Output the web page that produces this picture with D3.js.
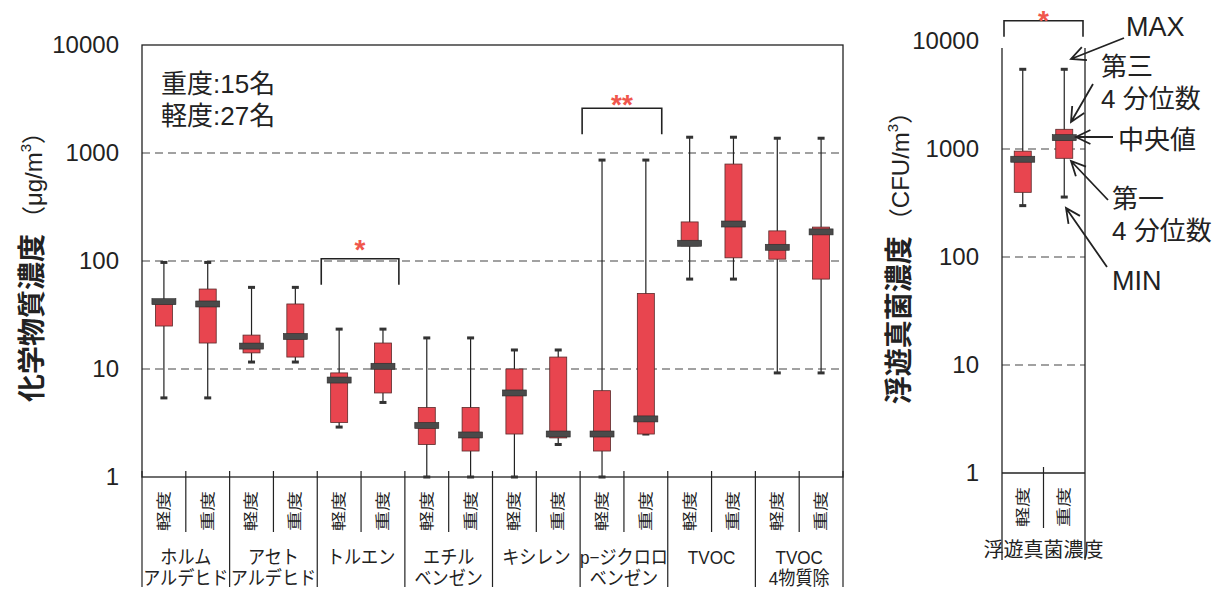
<!DOCTYPE html>
<html><head><meta charset="utf-8">
<script src="https://cdn.jsdelivr.net/npm/d3@7"></script>
<style>
html,body{margin:0;padding:0;background:#fff;}
svg{display:block;font-family:"Liberation Sans","Noto Sans CJK JP",sans-serif;}
</style></head>
<body>
<svg id="c" width="1227" height="592"></svg>
<script>
// ---------- data ----------
const groupNames = [["ホルム","アルデヒド"],["アセト","アルデヒド"],["トルエン"],["エチル","ベンゼン"],["キシレン"],["p−ジクロロ","ベンゼン"],["TVOC"],["TVOC","4物質除"]];
const severity = ["軽度","重度"];
const chemMin = [5.4, 5.4, 11.6, 11.6, 2.9, 4.9, 1, 1, 1, 2.0, 1, 2.5, 68, 68, 9.2, 9.2];
const chemQ1  = [25, 17.4, 14.1, 12.9, 3.2, 6.0, 2.0, 1.74, 2.5, 2.3, 1.74, 2.5, 138, 107, 104, 68];
const chemMed = [42, 40, 16.3, 20, 7.9, 10.6, 3.0, 2.45, 6.0, 2.5, 2.5, 3.45, 146, 220, 134, 186];
const chemQ3  = [44, 55, 20.6, 40, 9.2, 17.4, 4.4, 4.4, 10, 12.9, 6.3, 50, 230, 790, 190, 206];
const chemMax = [97, 97, 57, 57, 23.4, 23.4, 19.4, 19.4, 15, 15, 860, 860, 1400, 1400, 1370, 1370];
const fungusName = "浮遊真菌濃度";
const fungusMin = [299, 359];
const fungusQ1  = [397, 820];
const fungusMed = [804, 1273];
const fungusQ3  = [955, 1522];
const fungusMax = [5470, 5470];
const yTicks = [1, 10, 100, 1000, 10000];
const gridVals = [10, 100, 1000];
const sampleNote = ["重度:15名", "軽度:27名"];
const chemBrackets = [{a:4, b:5, top:105, label:"*"}, {a:10, b:11, top:2600, label:"**"}];
const fungusBracket = {a:0, b:1, top:15400, label:"*"};

// ---------- style ----------
const BOX_FILL = "#e8454f", BOX_STROKE = "#5a2a2a", MED_FILL = "#4a4a4a", INK = "#222", STAR = "#f0564c";
const svg = d3.select("#c");

// ---------- scales ----------
const xL = d3.scaleBand().domain(d3.range(16)).range([142, 843]);
const yL = d3.scaleLog().domain([1, 10000]).range([477, 45]);
const xR = d3.scaleBand().domain([0, 1]).range([1002, 1085]);
const yR = d3.scaleLog().domain([1, 10000]).range([473, 41]);

function drawBoxes(g, x, y, mins, q1, med, q3, max) {
  const bw = 17, mw = 24, cw = 7;
  const idx = d3.range(mins.length);
  const cx = i => x(i) + x.bandwidth() / 2;
  g.selectAll("line.wh").data(idx).join("line")
    .attr("x1", cx).attr("x2", cx)
    .attr("y1", i => y(max[i])).attr("y2", i => y(mins[i]))
    .attr("stroke", INK).attr("stroke-width", 1.2);
  g.selectAll("rect.capT").data(idx).join("rect")
    .attr("x", i => cx(i) - cw / 2).attr("y", i => y(max[i]) - 1.5)
    .attr("width", cw).attr("height", 3).attr("fill", "#333");
  g.selectAll("rect.capB").data(idx).join("rect")
    .attr("x", i => cx(i) - cw / 2).attr("y", i => y(mins[i]) - 1.5)
    .attr("width", cw).attr("height", 3).attr("fill", "#333");
  g.selectAll("rect.box").data(idx).join("rect")
    .attr("x", i => cx(i) - bw / 2).attr("y", i => y(q3[i]))
    .attr("width", bw).attr("height", i => y(q1[i]) - y(q3[i]))
    .attr("fill", BOX_FILL).attr("stroke", BOX_STROKE).attr("stroke-width", 0.8);
  g.selectAll("rect.med").data(idx).join("rect")
    .attr("x", i => cx(i) - mw / 2).attr("y", i => y(med[i]) - 3)
    .attr("width", mw).attr("height", 6)
    .attr("fill", MED_FILL).attr("stroke", "#2a2a2a").attr("stroke-width", 0.6);
}

function drawYAxis(x0, y) {
  const g = svg.append("g").attr("transform", `translate(${x0},0)`)
    .call(d3.axisLeft(y).tickValues(yTicks).tickFormat(d3.format("d")).tickSize(0).tickPadding(23));
  g.select(".domain").remove();
  g.selectAll("text").attr("font-size", 24).attr("fill", INK)
    .attr("font-family", "Liberation Sans, Arial, sans-serif");
}

function drawGrid(x0, x1, y) {
  svg.append("g").selectAll("line").data(gridVals).join("line")
    .attr("x1", x0).attr("x2", x1).attr("y1", d => y(d)).attr("y2", d => y(d))
    .attr("stroke", "#444").attr("stroke-width", 1.1).attr("stroke-dasharray", "8,5");
}

function drawBracket(x, y, br, inL, inR, drop, starOff) {
  const xa = x(br.a) + inL, xb = x(br.b) + x.bandwidth() - inR, yt = y(br.top);
  svg.append("path")
    .attr("d", `M${xa},${yt + drop}V${yt}H${xb}V${yt + drop}`)
    .attr("fill", "none").attr("stroke", INK).attr("stroke-width", 1.6);
  svg.append("text").attr("x", (xa + xb) / 2).attr("y", yt - starOff)
    .attr("text-anchor", "middle").attr("font-size", 28).attr("font-weight", "bold")
    .attr("fill", STAR).attr("font-family", "Liberation Sans, Arial, sans-serif")
    .text(br.label);
}

// ---------- LEFT PANEL ----------
drawGrid(142, 843, yL);
svg.append("rect").attr("x", 142).attr("y", 45).attr("width", 701).attr("height", 432)
  .attr("fill", "none").attr("stroke", INK).attr("stroke-width", 1.3);
drawYAxis(142, yL);
drawBoxes(svg.append("g"), xL, yL, chemMin, chemQ1, chemMed, chemQ3, chemMax);

// category separators below axis
const stepL = xL.step();
svg.append("g").selectAll("line").data(d3.range(17)).join("line")
  .attr("x1", i => 142 + i * stepL).attr("x2", i => 142 + i * stepL)
  .attr("y1", 471).attr("y2", i => i % 2 === 0 ? 587 : 532)
  .attr("stroke", INK).attr("stroke-width", 1.2);

// severity labels (rotated)
svg.append("g").selectAll("text").data(d3.range(16)).join("text")
  .attr("transform", i => `translate(${xL(i) + xL.bandwidth() / 2},511) rotate(-90) scale(1,0.72)`)
  .attr("text-anchor", "middle").attr("dominant-baseline", "central")
  .attr("font-size", 20).attr("fill", INK).text(i => severity[i % 2]);

// group labels
groupNames.forEach((lines, gi) => {
  const cx = xL(gi * 2) + stepL;
  lines.forEach((t, li) => {
    svg.append("text")
      .attr("transform", `translate(${cx},${564 + li * 21}) scale(0.9,1)`)
      .attr("text-anchor", "middle").attr("font-size", 19).attr("fill", INK).text(t);
  });
});

// sample note
sampleNote.forEach((t, i) => {
  svg.append("text").attr("x", 161).attr("y", 93 + i * 32)
    .attr("font-size", 26).attr("fill", INK).text(t);
});

// brackets
drawBracket(xL, yL, chemBrackets[0], 4, 6, 26, 0);
drawBracket(xL, yL, chemBrackets[1], 2, 6, 26, -6);

// left y title
const tL = svg.append("text").attr("transform", "translate(42,261) rotate(-90)")
  .attr("text-anchor", "middle").attr("fill", INK);
tL.append("tspan").attr("font-size", 28).attr("font-weight", "bold").text("化学物質濃度");
tL.append("tspan").attr("font-size", 24).attr("dx", 4).text("（μg/m");
tL.append("tspan").attr("font-size", 15).attr("dy", -11).text("3");
tL.append("tspan").attr("font-size", 24).attr("dy", 11).text("）");

// ---------- RIGHT PANEL ----------
drawGrid(1002, 1085, yR);
[1002, 1085].forEach(xx => svg.append("line").attr("x1", xx).attr("x2", xx)
  .attr("y1", 48).attr("y2", 560).attr("stroke", INK).attr("stroke-width", 1.3));
svg.append("line").attr("x1", 1002).attr("x2", 1085).attr("y1", yR(1)).attr("y2", yR(1))
  .attr("stroke", INK).attr("stroke-width", 1.3);
svg.append("line").attr("x1", xR(1)).attr("x2", xR(1)).attr("y1", 467).attr("y2", 528)
  .attr("stroke", INK).attr("stroke-width", 1.2);
drawYAxis(1002, yR);
drawBoxes(svg.append("g"), xR, yR, fungusMin, fungusQ1, fungusMed, fungusQ3, fungusMax);

svg.append("g").selectAll("text").data([0, 1]).join("text")
  .attr("transform", i => `translate(${xR(i) + xR.bandwidth() / 2},507) rotate(-90) scale(1,0.72)`)
  .attr("text-anchor", "middle").attr("dominant-baseline", "central")
  .attr("font-size", 20).attr("fill", INK).text(i => severity[i]);
svg.append("text").attr("x", (1002 + 1085) / 2).attr("y", 557).attr("text-anchor", "middle")
  .attr("font-size", 20).attr("fill", INK).text(fungusName);

drawBracket(xR, yR, fungusBracket, 2, 2, 16, -9);

const tR = svg.append("text").attr("transform", "translate(909,252) rotate(-90)")
  .attr("text-anchor", "middle").attr("fill", INK);
tR.append("tspan").attr("font-size", 28).attr("font-weight", "bold").text("浮遊真菌濃度");
tR.append("tspan").attr("font-size", 24).attr("dx", 4).text("（CFU/m");
tR.append("tspan").attr("font-size", 15).attr("dy", -11).text("3");
tR.append("tspan").attr("font-size", 24).attr("dy", 11).text("）");

// ---------- annotations ----------
const notes = [
  {lines:["MAX"], x:1126, y:36, from:[1124,38], to:[1071,59]},
  {lines:["第三","4 分位数"], x:1101, y:76, from:[1093,84], to:[1071,122]},
  {lines:["中央値"], x:1118, y:149, from:[1113,137], to:[1076,137]},
  {lines:["第一","4 分位数"], x:1112, y:208, from:[1108,200], to:[1071,161]},
  {lines:["MIN"], x:1112, y:290, from:[1107,267], to:[1066,208]}
];
notes.forEach(n => {
  n.lines.forEach((t, i) => svg.append("text").attr("x", n.x).attr("y", n.y + i * 32)
    .attr("font-size", /[A-Z]/.test(t) ? 27 : 26).attr("fill", INK).text(t));
  const [x1, y1] = n.from, [x2, y2] = n.to;
  const ang = Math.atan2(y1 - y2, x1 - x2), L = 16, a = 0.45;
  svg.append("path")
    .attr("d", `M${x1},${y1}L${x2},${y2}M${x2 + L * Math.cos(ang + a)},${y2 + L * Math.sin(ang + a)}L${x2},${y2}L${x2 + L * Math.cos(ang - a)},${y2 + L * Math.sin(ang - a)}`)
    .attr("fill", "none").attr("stroke", INK).attr("stroke-width", 1.8);
});
</script>
</body></html>
